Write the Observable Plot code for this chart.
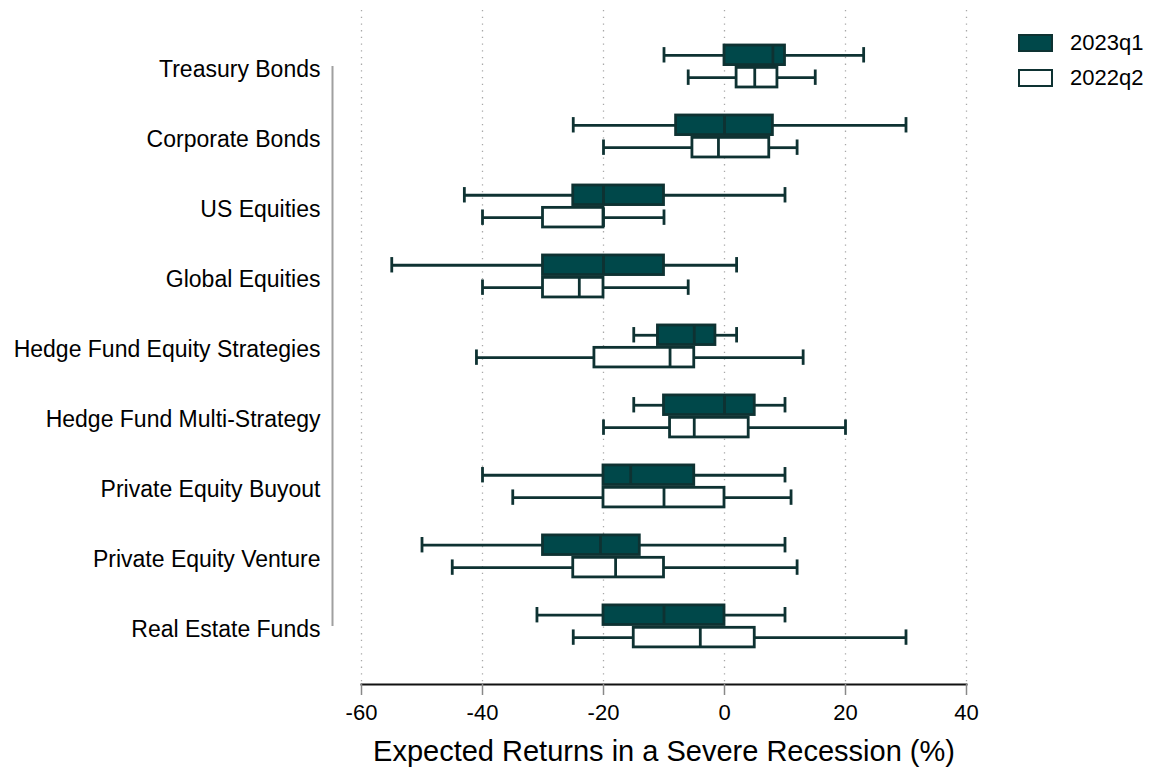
<!DOCTYPE html>
<html>
<head>
<meta charset="utf-8">
<script src="https://cdn.jsdelivr.net/npm/d3@7"></script>
<script src="https://cdn.jsdelivr.net/npm/@observablehq/plot@0.6"></script>
<style>
  html, body { margin: 0; padding: 0; background: #fff; }
  #wrap { position: relative; width: 1152px; height: 772px; font-family: "Liberation Sans", Arial, Helvetica, sans-serif; }
  .legend { position: absolute; left: 1018px; font-size: 22px; color: #000; }
  .legend .row { position: absolute; display: flex; align-items: center; white-space: nowrap; }
  .legend .sw { width: 31px; height: 14px; border: 2.5px solid #0e3232; margin-right: 17px; }
</style>
</head>
<body>
<div id="wrap"></div>
<script>
const categories = [
  "Treasury Bonds",
  "Corporate Bonds",
  "US Equities",
  "Global Equities",
  "Hedge Fund Equity Strategies",
  "Hedge Fund Multi-Strategy",
  "Private Equity Buyout",
  "Private Equity Venture",
  "Real Estate Funds"
];
const seriesNames = ["2023q1", "2022q2"];

// 2023q1
const min2023 = [-10, -25, -43, -55, -15, -15, -40, -50, -31];
const q1_2023 = [0, -8, -25, -30, -11, -10, -20, -30, -20];
const med2023 = [8, 0, -20, -20, -5, 0, -15.5, -20.5, -10];
const q3_2023 = [10, 8, -10, -10, -1.5, 5, -5, -14, 0];
const max2023 = [23, 30, 10, 2, 2, 10, 10, 10, 10];

// 2022q2
const min2022 = [-6, -20, -40, -40, -41, -20, -35, -45, -25];
const q1_2022 = [2, -5.3, -30, -30, -21.5, -9, -20, -25, -15];
const med2022 = [5, -1, -20, -24, -9, -5, -10, -18, -4];
const q3_2022 = [8.75, 7.4, -20, -20, -5, 4, 0, -10, 5];
const max2022 = [15, 12, -10, -6, 13, 20, 11, 12, 30];

const xTicks = [-60, -40, -20, 0, 20, 40];
const xTickLabels = ["-60", "-40", "-20", "0", "20", "40"];
const xTitle = "Expected Returns in a Severe Recession (%)";

const teal = "#00484a";
const dark = "#0e3232";
const offsets = [-0.16, 0.16];
const boxHalf = 0.14;
const capHalf = 0.11;

const stats = [
  {min: min2023, q1: q1_2023, med: med2023, q3: q3_2023, max: max2023},
  {min: min2022, q1: q1_2022, med: med2022, q3: q3_2022, max: max2022}
];
const rows = [];
stats.forEach((s, si) => categories.forEach((c, i) => rows.push({
  cat: c, series: seriesNames[si], pos: i + offsets[si],
  min: s.min[i], q1: s.q1[i], med: s.med[i], q3: s.q3[i], max: s.max[i]
})));

const sw = 2.8;
const chart = Plot.plot({
  width: 1152,
  height: 772,
  marginLeft: 361,
  marginRight: 186,
  marginTop: 10,
  marginBottom: 88,
  style: {fontFamily: "'Liberation Sans', Arial, Helvetica, sans-serif", background: "#fff", color: "#000"},
  x: {domain: [xTicks[0], xTicks[xTicks.length - 1]]},
  y: {domain: [-0.8, categories.length - 1 + 0.83], reverse: true},
  marks: [
    Plot.gridX(xTicks, {stroke: "#a8a8a8", strokeOpacity: 1, strokeWidth: 1.3, strokeDasharray: "1.3,5.4"}),
    Plot.ruleX([xTicks[0]], {y1: 0, y2: categories.length - 1, dx: -29, stroke: "#a0a0a0", strokeWidth: 2}),
    Plot.ruleY(rows, {y: "pos", x1: "min", x2: "q1", stroke: dark, strokeWidth: sw}),
    Plot.ruleY(rows, {y: "pos", x1: "q3", x2: "max", stroke: dark, strokeWidth: sw}),
    Plot.ruleX(rows, {x: "min", y1: d => d.pos - capHalf, y2: d => d.pos + capHalf, stroke: dark, strokeWidth: sw}),
    Plot.ruleX(rows, {x: "max", y1: d => d.pos - capHalf, y2: d => d.pos + capHalf, stroke: dark, strokeWidth: sw}),
    Plot.rect(rows.filter(d => d.series === seriesNames[0]), {x1: "q1", x2: "q3", y1: d => d.pos - boxHalf, y2: d => d.pos + boxHalf, fill: teal, stroke: dark, strokeWidth: sw}),
    Plot.rect(rows.filter(d => d.series === seriesNames[1]), {x1: "q1", x2: "q3", y1: d => d.pos - boxHalf, y2: d => d.pos + boxHalf, fill: "white", stroke: dark, strokeWidth: sw}),
    Plot.ruleX(rows, {x: "med", y1: d => d.pos - boxHalf, y2: d => d.pos + boxHalf, stroke: dark, strokeWidth: sw}),
    Plot.frame({anchor: "bottom", stroke: "#111", strokeWidth: 2}),
    Plot.axisX(xTicks, {tickSize: 11, tickPadding: 9, fontSize: 22, label: null, stroke: "#888", strokeWidth: 1.5,
      tickFormat: d => xTickLabels[xTicks.indexOf(d)]}),
    Plot.axisY(d3.range(categories.length), {tickFormat: i => categories[i], tickSize: 0, tickPadding: 41, fontSize: 23, dy: 3, label: null}),
    Plot.text([xTitle], {text: d => d, frameAnchor: "bottom", dy: 76, fontSize: 29, fill: "#000"})
  ]
});

const wrap = document.getElementById("wrap");
wrap.appendChild(chart);

const legend = document.createElement("div");
legend.className = "legend";
legend.style.top = "0px";
const legendFills = [teal, "white"];
seriesNames.forEach((name, i) => {
  const row = document.createElement("div");
  row.className = "row";
  row.style.top = (30 + i * 35) + "px";
  const box = document.createElement("div");
  box.className = "sw";
  box.style.background = legendFills[i];
  const label = document.createElement("span");
  label.textContent = name;
  row.appendChild(box);
  row.appendChild(label);
  legend.appendChild(row);
});
wrap.appendChild(legend);
</script>
</body>
</html>
